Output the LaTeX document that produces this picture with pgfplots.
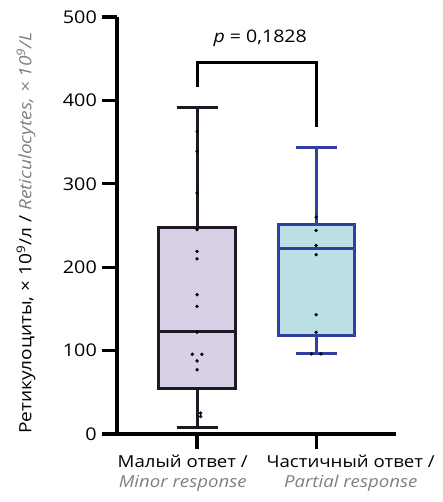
\documentclass[border=0pt]{standalone}
\usepackage{pgfplots}
\pgfplotsset{compat=1.18}
\usepackage{fontspec}
\setmainfont{Open Sans}[FakeStretch=1.13]
\definecolor{boxA}{RGB}{216,208,230}
\definecolor{edgeA}{RGB}{28,24,36}
\definecolor{boxB}{RGB}{186,224,230}
\definecolor{edgeB}{RGB}{52,62,160}
\definecolor{engl}{RGB}{128,128,128}
\begin{document}
\begin{tikzpicture}
\begin{axis}[
  scale only axis, width=279bp, height=417bp,
  xmin=0.328, xmax=2.67, ymin=0, ymax=500,
  axis x line*=bottom, axis y line*=left,
  axis line style={-, line width=3.2bp, black},
  ytick={0,100,...,500}, xtick={1,2}, xticklabels={},
  tick align=outside, major tick length=15bp,
  tick style={line width=3.2bp, black},
  /pgf/number format/assume math mode=true,
  yticklabel style={font=\fontsize{17.5bp}{19bp}\selectfont, inner sep=5bp},
  clip=false,
]
% group 1 box
\addplot[draw=edgeA, fill=boxA, line width=3bp, line join=miter, mark=none]
  coordinates {(0.68,54) (1.32,54) (1.32,248) (0.68,248) (0.68,54) (1.32,54)};
\addplot[edgeA, line width=3bp, mark=none] coordinates {(0.68,123) (1.32,123)};
\addplot[edgeA, line width=3bp, mark=none] coordinates {(1,248) (1,391)};
\addplot[edgeA, line width=3bp, mark=none] coordinates {(1,54) (1,7.6)};
\addplot[edgeA, line width=3bp, mark=none] coordinates {(0.8275,391) (1.1725,391)};
\addplot[edgeA, line width=3bp, mark=none] coordinates {(0.8275,7.6) (1.1725,7.6)};
% group 2 box
\addplot[draw=edgeB, fill=boxB, line width=3bp, line join=miter, mark=none]
  coordinates {(1.68,118) (2.32,118) (2.32,251) (1.68,251) (1.68,118) (2.32,118)};
\addplot[edgeB, line width=3bp, mark=none] coordinates {(1.68,222) (2.32,222)};
\addplot[edgeB, line width=3bp, mark=none] coordinates {(2,251) (2,343)};
\addplot[edgeB, line width=3bp, mark=none] coordinates {(2,118) (2,96)};
\addplot[edgeB, line width=3bp, mark=none] coordinates {(1.8275,343) (2.1725,343)};
\addplot[edgeB, line width=3bp, mark=none] coordinates {(1.8275,96) (2.1725,96)};
% points
\addplot[only marks, mark=*, mark size=1.5bp, black] coordinates {
  (1.03,21) (1.03,25) (0.96,95.6) (1.04,95.6) (1,87.6) (1,77) (1,122) (1,153) (1,167)
  (1,210) (1,219) (1,245) (1,289) (1,339) (1,363)
  (2,260) (2,244) (2,226) (2,215) (2,143) (2,122) (1.96,96) (2.04,96)
};
% bracket
\addplot[black, line width=3bp, mark=none] coordinates {(1,416) (1,445) (2,445) (2,368)};
\node[font=\fontsize{17.3bp}{19bp}\selectfont] at (axis cs:1.53,474) {\textit{p} = 0,1828};
\node[align=center, anchor=north, font=\fontsize{16.5bp}{19.5bp}\selectfont, inner sep=0pt, yshift=-21bp]
  at (axis cs:0.88,0) {Малый ответ /\\{\color{engl}\itshape Minor response}};
\node[align=center, anchor=north, font=\fontsize{16.5bp}{19.5bp}\selectfont, inner sep=0pt, yshift=-21bp]
  at (axis cs:2.29,0) {Частичный ответ /\\{\color{engl}\itshape Partial response}};
\end{axis}
\node[rotate=90, font=\fontsize{16.9bp}{19bp}\selectfont] at (-91bp,201bp)
  {Ретикулоциты, × 10\textsuperscript{9}/л / {\color{engl}\itshape Reticulocytes, × 10\textsuperscript{9}/L}};
\pgfresetboundingbox
\path[use as bounding box] (-117bp,-68bp) rectangle (326bp,434bp);
\end{tikzpicture}
\end{document}
